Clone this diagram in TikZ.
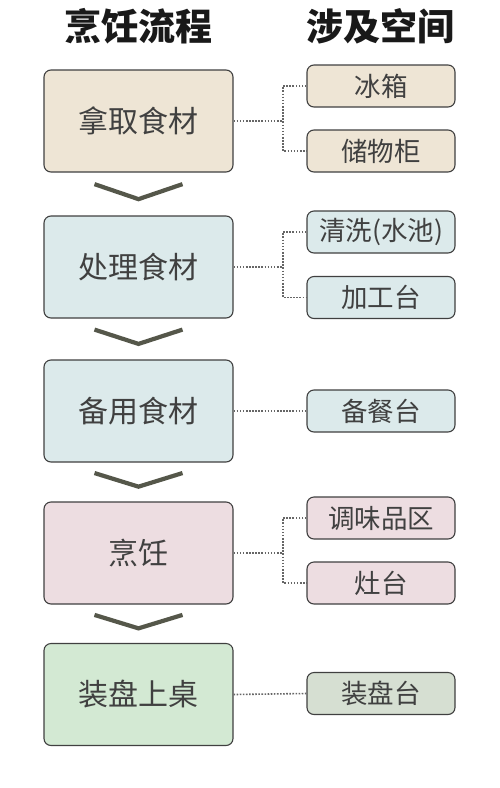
\documentclass[tikz,border=0pt]{standalone}
\usepackage{fontspec}
\newfontfamily\cjk{Noto Sans CJK SC}
\begin{document}
\begin{tikzpicture}[x=1pt,y=-1pt,
  box/.style={draw=black!75,line width=1.1pt,rounded corners=7pt,inner sep=0pt,text=black!75,font=\cjk\fontsize{30}{32}\selectfont},
  mainbox/.style={box,minimum width=189pt,minimum height=102pt},
  sidebox/.style={box,minimum width=148pt,minimum height=42pt,font=\cjk\fontsize{26.5}{28}\selectfont},
  conn/.style={draw=black!60,line width=1.6pt,dash pattern=on 1.6pt off 1.5pt},
  title/.style={font=\cjk\bfseries\fontsize{37}{40}\selectfont,text=black!90}]
\useasboundingbox (0,0) rectangle (500,788);
\definecolor{cbeige}{HTML}{EEE5D5}
\definecolor{cblue}{HTML}{DCEAEB}
\definecolor{cpink}{HTML}{EDDDE1}
\definecolor{cgreen}{HTML}{D3E9D3}
\definecolor{cgrey}{HTML}{D6DFD2}
\definecolor{chevc}{HTML}{55574A}
\node[title] (t1) at (138,26) {烹饪流程};
\node[title] (t2) at (380,26) {涉及空间};
\node[mainbox,fill=cbeige] (m1) at (138.5,121) {拿取食材};
\node[mainbox,fill=cblue] (m2) at (138.5,267) {处理食材};
\node[mainbox,fill=cblue] (m3) at (138.5,411) {备用食材};
\node[mainbox,fill=cpink] (m4) at (138.5,553) {烹饪};
\node[mainbox,fill=cgreen] (m5) at (138.5,694.5) {装盘上桌};
\node[sidebox,fill=cbeige] (s1) at (381,86) {冰箱};
\node[sidebox,fill=cbeige] (s2) at (381,151) {储物柜};
\node[sidebox,fill=cblue] (s3) at (381,232) {清洗(水池)};
\node[sidebox,fill=cblue] (s4) at (381,297.5) {加工台};
\node[sidebox,fill=cblue] (s5) at (381,411) {备餐台};
\node[sidebox,fill=cpink] (s6) at (381,518) {调味品区};
\node[sidebox,fill=cpink] (s7) at (381,583) {灶台};
\node[sidebox,fill=cgrey] (s8) at (381,693.5) {装盘台};
\coordinate (j) at (283,0);
\foreach \m/\a/\b in {m1/s1/s2,m2/s3/s4,m4/s6/s7}{
  \draw[conn] (\m.east) -- (j |- \m.east);
  \draw[conn] (\a.west) -| (j |- \m.east) |- (\b.west);
}
\draw[conn] (m3.east) -- (s5.west);
\draw[conn] (m5.east) -- (s8.west);
\foreach \u/\d in {m1/m2,m2/m3,m3/m4,m4/m5}{
  \path (\u.south) -- (\d.north) coordinate[pos=0.27] (p1) coordinate[pos=0.62] (p2);
  \draw[draw=chevc,line width=4.2pt] ([xshift=-44pt]p1) -- (p2) -- ([xshift=44pt]p1);
}
\end{tikzpicture}
\end{document}
